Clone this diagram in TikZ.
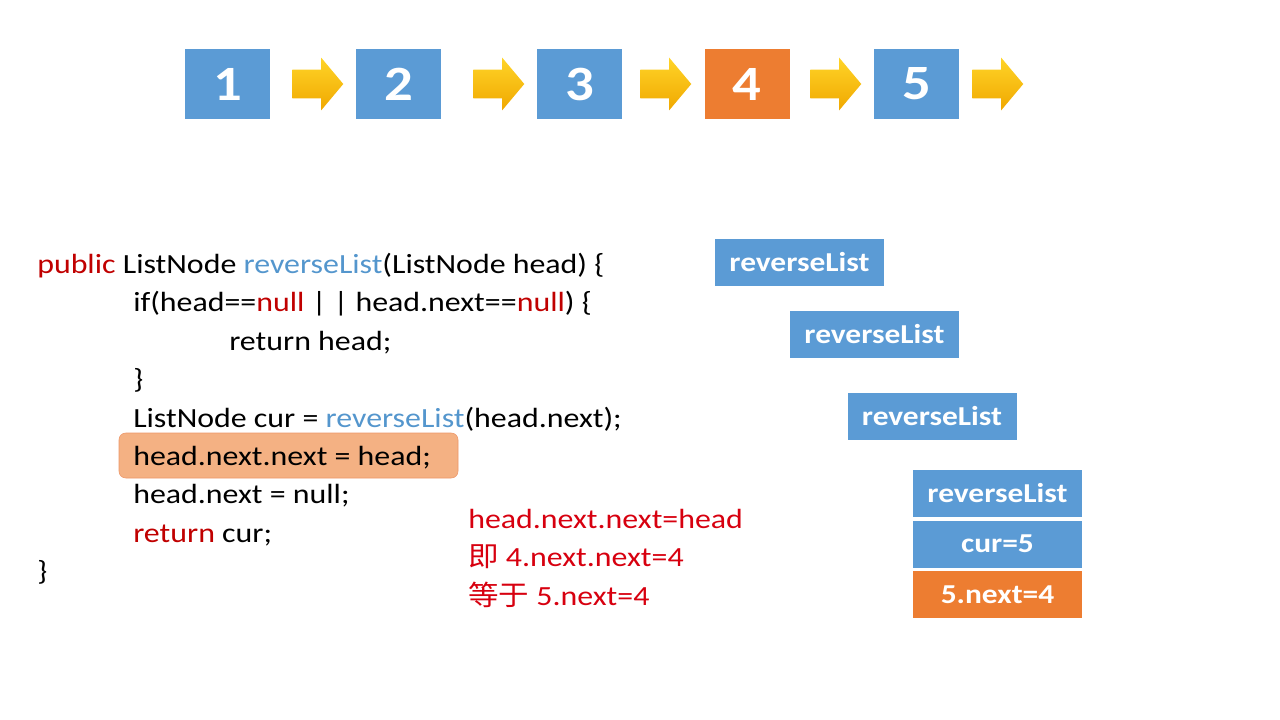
\documentclass[tikz,border=0pt]{standalone}
\usepackage{fontspec}
\setmainfont{Carlito}[FakeStretch=1.15]
\newfontfamily\cjk{Noto Sans CJK SC}[FakeStretch=1.1]
\usetikzlibrary{positioning,shapes.arrows}
\definecolor{boxblue}{RGB}{91,155,213}
\definecolor{boxorange}{RGB}{237,125,49}
\definecolor{kwred}{RGB}{192,0,0}
\definecolor{fnblue}{RGB}{84,150,205}
\definecolor{notered}{RGB}{215,0,15}
\definecolor{hlfill}{RGB}{244,177,131}
\definecolor{hlline}{RGB}{236,150,105}
\definecolor{arrtop}{RGB}{255,212,40}
\definecolor{arrbot}{RGB}{240,168,0}
\newcommand{\kw}[1]{\textcolor{kwred}{#1}}
\newcommand{\fn}[1]{\textcolor{fnblue}{#1}}

\begin{document}
\begin{tikzpicture}[x=0.75pt, y=-0.75pt,
    cell/.style={fill=boxblue, text=white, minimum width=63.75pt, minimum height=52.5pt,
      inner sep=0pt, font=\bfseries\fontsize{37}{40}\selectfont},
    go/.style={single arrow, draw=none, top color=arrtop, bottom color=arrbot, anchor=tail,
      minimum height=38.25pt, inner xsep=0pt, inner ysep=10.5pt,
      single arrow head extend=9pt, single arrow tip angle=100},
    line/.style={anchor=base west, inner sep=0pt, font=\fontsize{20.8}{24}\selectfont},
    note/.style={line, text=notered},
    frame/.style={fill=boxblue, text=white, minimum width=126.75pt, minimum height=35.25pt,
      inner sep=0pt, font=\bfseries\fontsize{20.5}{24}\selectfont}]
  \useasboundingbox (0,0) rectangle (1280,720);

  % the list 1 -> 5
  \node[cell] (n1) at (227.5,84) {1};
  \node[cell] (n2) at (398.5,84) {2};
  \node[cell] (n3) at (579.5,84) {3};
  \node[cell, fill=boxorange] (n4) at (747,84) {4};
  \node[cell] (n5) at (916.5,84) {5};
  \node[go] (a1) at (292,84) {};
  \node[go] (a2) at (473,84) {};
  \node[go] (a3) at (640,84) {};
  \node[go] (a4) at (810,84) {};
  \node[go] (a5) at (972,84) {};

  % the code
  \node[fill=hlfill, draw=hlline, rounded corners=5pt, minimum width=254.25pt,
    minimum height=33.75pt, inner sep=0pt] (hl) at (288.5,455.5) {};
  \node[line] (c1) at (37,273) {\kw{public} ListNode \fn{reverseList}(ListNode head) \{};
  \node[line] (c2) at (133,311) {if(head==\kw{null} | | head.next==\kw{null}) \{};
  \node[line] (c3) at (229,350) {return head;};
  \node[line] (c4) at (133,388) {\}};
  \node[line] (c5) at (133,427) {ListNode cur = \fn{reverseList}(head.next);};
  \node[line] (c6) at (133,465) {head.next.next = head;};
  \node[line] (c7) at (133,503) {head.next = null;};
  \node[line] (c8) at (133,542) {\kw{return} cur;};
  \node[line] (c9) at (37,580) {\}};

  % what the line means
  \node[note] (t1) at (468,528) {head.next.next=head};
  \node[note] (t2) at (468,566) {{\cjk 即} 4.next.next=4};
  \node[note] (t3) at (468,605) {{\cjk 等于} 5.next=4};

  % the call stack
  \node[frame] (f1) at (799.5,262.5) {reverseList};
  \node[frame] (f2) at (874.5,334) {reverseList};
  \node[frame] (f3) at (932,416.5) {reverseList};
  \node[frame] (f4) at (997.5,493.5) {reverseList};
  \node[frame, below=2.25pt of f4] (cur) {cur=5};
  \node[frame, fill=boxorange, below=2.25pt of cur] (nxt) {5.next=4};
\end{tikzpicture}
\end{document}
